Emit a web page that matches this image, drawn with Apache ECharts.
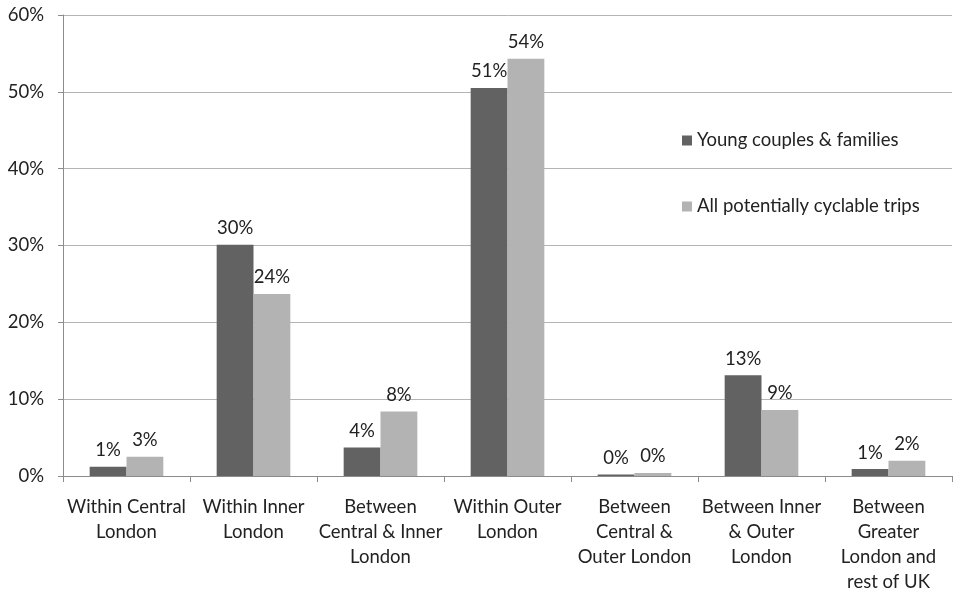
<!DOCTYPE html>
<html>
<head>
<meta charset="utf-8">
<script src="https://cdn.jsdelivr.net/npm/echarts@6/dist/echarts.min.js"></script>
<style>html,body{margin:0;padding:0;background:#fff;}#c{width:962px;height:599px;}</style>
</head>
<body>
<div id="c"></div>
<script>
const categories = [
  'Within Central\nLondon',
  'Within Inner\nLondon',
  'Between\nCentral & Inner\nLondon',
  'Within Outer\nLondon',
  'Between\nCentral &\nOuter London',
  'Between Inner\n& Outer\nLondon',
  'Between\nGreater\nLondon and\nrest of UK'
];
const seriesNames = ['Young couples & families', 'All potentially cyclable trips'];
const youngFamilies = [1.2, 30.1, 3.7, 50.5, 0.2, 13.1, 0.9];
const allTrips = [2.5, 23.7, 8.4, 54.3, 0.4, 8.6, 2.0];
const yTicks = [0, 10, 20, 30, 40, 50, 60];

const FONT = 'Lato';
const FS = 18.5;
const chart = echarts.init(document.getElementById('c'));
const labelOpt = {
  show: true, position: 'top', distance: 7,
  color: '#222', fontFamily: FONT, fontSize: FS,
  formatter: p => Math.round(p.value) + '%'
};
chart.setOption({
  animation: false,
  textStyle: { fontFamily: FONT },
  grid: { left: 63, right: 10, top: 15, bottom: 123, containLabel: false },
  legend: {
    orient: 'vertical', left: 677, top: 126, itemGap: 47,
    itemWidth: 10, itemHeight: 10, icon: 'rect', itemStyle: { borderWidth: 0 },
    textStyle: { color: '#222', fontSize: FS, fontFamily: FONT },
    data: seriesNames
  },
  xAxis: {
    type: 'category', data: categories,
    axisLine: { lineStyle: { color: '#8c8c8c' } },
    axisTick: { show: true, length: 6, lineStyle: { color: '#8c8c8c' } },
    axisLabel: { interval: 0, color: '#222', fontSize: FS, lineHeight: 25, margin: 19, fontFamily: FONT }
  },
  yAxis: {
    type: 'value', min: yTicks[0], max: yTicks[yTicks.length - 1], interval: 10,
    axisLine: { show: true, lineStyle: { color: '#8c8c8c' } },
    axisTick: { show: true, length: 5, lineStyle: { color: '#8c8c8c' } },
    splitLine: { lineStyle: { color: '#b4b4b4' } },
    axisLabel: { formatter: '{value}%', color: '#222', fontSize: FS, margin: 19, fontFamily: FONT }
  },
  series: [
    { name: seriesNames[0], type: 'bar', data: youngFamilies, barGap: '0%', barCategoryGap: '42%',
      itemStyle: { color: '#626262' }, label: labelOpt },
    { name: seriesNames[1], type: 'bar', data: allTrips,
      itemStyle: { color: '#b3b3b3' }, label: labelOpt }
  ]
});
</script>
</body>
</html>
